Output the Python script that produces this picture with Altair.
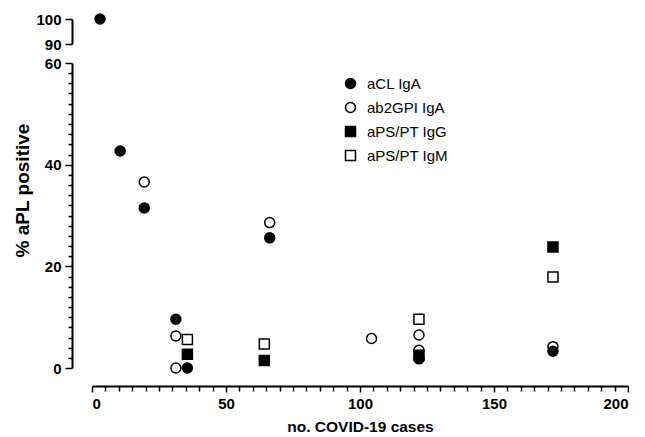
import altair as alt
import pandas as pd

series_names = ["aCL IgA", "ab2GPI IgA", "aPS/PT IgG", "aPS/PT IgM"]

acl_iga_x = [10.5, 19.5, 31.3, 35.6, 66.3, 122, 172]
acl_iga_y = [42.7, 31.5, 9.6, 0, 25.6, 1.8, 3.3]

ab2gpi_iga_x = [19.5, 31.3, 31.3, 66.3, 104.3, 122, 122, 172]
ab2gpi_iga_y = [36.6, 6.3, 0, 28.6, 5.8, 6.5, 3.5, 4.2]

apspt_igg_x = [35.6, 64.3, 122, 172]
apspt_igg_y = [2.7, 1.5, 2.5, 23.8]

apspt_igm_x = [35.6, 64.3, 122, 172]
apspt_igm_y = [5.6, 4.7, 9.6, 17.9]

# broken-axis upper segment
top_x = [3]
top_y = [100]
top_series = ["aCL IgA"]

rows = []
for name, xs, ys in [
    ("ab2GPI IgA", ab2gpi_iga_x, ab2gpi_iga_y),
    ("aPS/PT IgM", apspt_igm_x, apspt_igm_y),
    ("aPS/PT IgG", apspt_igg_x, apspt_igg_y),
    ("aCL IgA", acl_iga_x, acl_iga_y),
]:
    for x, y in zip(xs, ys):
        rows.append({"cases": x, "pct": y, "series": name})
df = pd.DataFrame(rows)
df_top = pd.DataFrame({"cases": top_x, "pct": top_y, "series": top_series})

FONT = "Liberation Sans"

shape_scale = alt.Scale(domain=series_names, range=["circle", "circle", "square", "square"])
fill_scale = alt.Scale(domain=series_names, range=["black", "white", "black", "white"])
stroke_scale = alt.Scale(domain=series_names, range=["black", "black", "black", "black"])

legend = alt.Legend(
    title=None, orient="none", legendX=251, legendY=13,
    symbolSize=100, symbolStrokeColor="black", symbolStrokeWidth=1.5,
    labelFont=FONT, labelFontSize=15, labelFontWeight="normal", labelColor="black",
    labelOffset=9, rowPadding=7, symbolOffset=0,
)

x_values = list(range(0, 201, 5))
y_values = list(range(0, 61, 2))

bottom = alt.Chart(df).mark_point(size=100, filled=False, opacity=1, strokeWidth=1.5).encode(
    x=alt.X("cases:Q", scale=alt.Scale(domain=[0, 200], nice=False),
            axis=alt.Axis(title="no. COVID-19 cases", values=x_values, offset=18,
                          labelExpr="datum.value % 50 === 0 ? datum.label : ''",
                          tickSize={"condition": {"test": "datum.value % 50 === 0", "value": 6}, "value": 5},
                          labelPadding=4, titlePadding=8, titleFontSize=15.5)),
    y=alt.Y("pct:Q", scale=alt.Scale(domain=[0, 60], nice=False),
            axis=alt.Axis(title="% aPL positive", values=y_values, offset=20,
                          labelExpr="datum.value % 20 === 0 ? datum.label : ''",
                          tickSize={"condition": {"test": "datum.value % 20 === 0", "value": 7}, "value": 4},
                          titleY=127, titlePadding=12, titleFontSize=19)),
    shape=alt.Shape("series:N", scale=shape_scale, legend=legend),
    fill=alt.Fill("series:N", scale=fill_scale, legend=legend),
    stroke=alt.Stroke("series:N", scale=stroke_scale, legend=legend),
).properties(width=536, height=305)

top = alt.Chart(df_top).mark_point(size=100, filled=False, opacity=1, strokeWidth=1.5, clip=False).encode(
    x=alt.X("cases:Q", scale=alt.Scale(domain=[0, 200], nice=False), axis=None),
    y=alt.Y("pct:Q", scale=alt.Scale(domain=[90, 100], nice=False),
            axis=alt.Axis(title=None, values=[90, 100], offset=20, tickSize=7)),
    shape=alt.Shape("series:N", scale=shape_scale, legend=None),
    fill=alt.Fill("series:N", scale=fill_scale, legend=None),
    stroke=alt.Stroke("series:N", scale=stroke_scale, legend=None),
).properties(width=536, height=25)

chart = alt.vconcat(top, bottom, spacing=19, bounds="flush").resolve_legend(
    shape="independent", fill="independent", stroke="independent"
).properties(
    padding={"left": 5, "top": 3, "right": 0, "bottom": 0},
    background="white",
).configure_view(stroke=None).configure_axis(
    labelFont=FONT, labelFontSize=15, labelFontWeight="bold", labelColor="black",
    titleFont=FONT, titleFontWeight="bold", titleColor="black",
    domainColor="black", domainWidth=2, tickColor="black", tickWidth=1.5,
    grid=False, labelPadding=4,
)

chart.save("out.html", embed_options={"renderer": "svg", "actions": False})
